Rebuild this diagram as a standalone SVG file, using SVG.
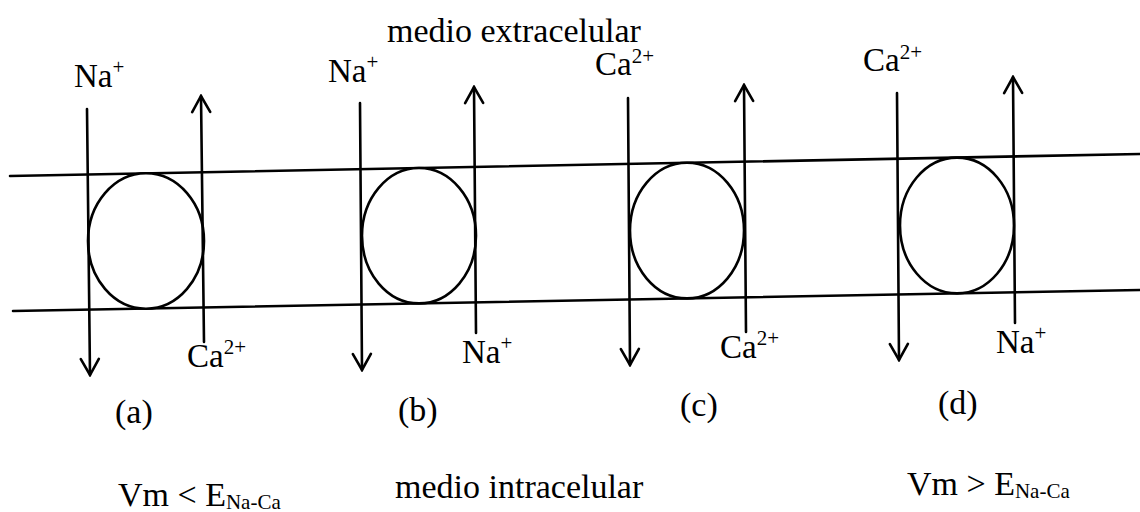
<svg xmlns="http://www.w3.org/2000/svg" width="1140" height="512" viewBox="0 0 1140 512">
<style>
text{font-family:"Liberation Serif","Times New Roman",serif;fill:#000}
.ion{font-size:33px}
.big{font-size:34px}
.sup{font-size:21px}
.sub{font-size:21px}
.ln{stroke:#000;stroke-width:2.6;fill:none;stroke-linecap:round}
.ex{stroke:#000;stroke-width:2.6;fill:#fff}
</style>
<defs>
<marker id="ah" viewBox="-2 -11 20 22" markerWidth="20" markerHeight="22" refX="16" refY="0" orient="auto" markerUnits="userSpaceOnUse">
<path d="M0,-9 L16,0 L0,9" fill="none" stroke="#000" stroke-width="2.6" stroke-linecap="round" stroke-linejoin="miter"/>
</marker>
</defs>
<rect width="1140" height="512" fill="#fff"/>
<g id="membrane">
<line class="ln" x1="10" y1="176" x2="1140" y2="154"/>
<line class="ln" x1="13" y1="311" x2="1140" y2="290"/>
</g>
<g id="exchanger-a"><ellipse class="ex" cx="146" cy="241" rx="58" ry="67.7"/></g>
<g id="exchanger-b"><ellipse class="ex" cx="419" cy="235.7" rx="57" ry="67.7"/></g>
<g id="exchanger-c"><ellipse class="ex" cx="687" cy="230.6" rx="57" ry="67.8"/></g>
<g id="exchanger-d"><ellipse class="ex" cx="957" cy="225.5" rx="57" ry="67.9"/></g>
<g id="connectors">
<line class="ln" x1="87" y1="109" x2="90" y2="375" marker-end="url(#ah)"/>
<line class="ln" x1="204" y1="342" x2="201" y2="96" marker-end="url(#ah)"/>
<line class="ln" x1="360" y1="103" x2="362" y2="370" marker-end="url(#ah)"/>
<line class="ln" x1="476" y1="333" x2="474" y2="87" marker-end="url(#ah)"/>
<line class="ln" x1="628" y1="98" x2="630" y2="365" marker-end="url(#ah)"/>
<line class="ln" x1="746" y1="332" x2="744" y2="85" marker-end="url(#ah)"/>
<line class="ln" x1="897" y1="93" x2="899" y2="360" marker-end="url(#ah)"/>
<line class="ln" x1="1015" y1="323" x2="1013" y2="77" marker-end="url(#ah)"/>
</g>
<g id="labels">
<text class="big" x="387" y="42">medio extracelular</text>
<text class="ion" x="74" y="87">Na<tspan class="sup" dy="-13">+</tspan></text>
<text class="ion" x="328" y="82">Na<tspan class="sup" dy="-13">+</tspan></text>
<text class="ion" x="595" y="75">Ca<tspan class="sup" dy="-12">2+</tspan></text>
<text class="ion" x="863" y="71">Ca<tspan class="sup" dy="-12">2+</tspan></text>
<text class="ion" x="187" y="367">Ca<tspan class="sup" dy="-13">2+</tspan></text>
<text class="ion" x="462" y="363">Na<tspan class="sup" dy="-13">+</tspan></text>
<text class="ion" x="720" y="358">Ca<tspan class="sup" dy="-13">2+</tspan></text>
<text class="ion" x="996" y="353">Na<tspan class="sup" dy="-13">+</tspan></text>
<text class="big" x="115" y="423">(a)</text>
<text class="big" x="398" y="421">(b)</text>
<text class="big" x="680" y="416">(c)</text>
<text class="big" x="938" y="414">(d)</text>
<text class="big" x="118" y="506">Vm &lt; E<tspan class="sub" dy="3">Na-Ca</tspan></text>
<text class="big" x="395" y="498">medio intracelular</text>
<text class="big" x="907" y="495">Vm &gt; E<tspan class="sub" dy="3">Na-Ca</tspan></text>
</g>
</svg>
